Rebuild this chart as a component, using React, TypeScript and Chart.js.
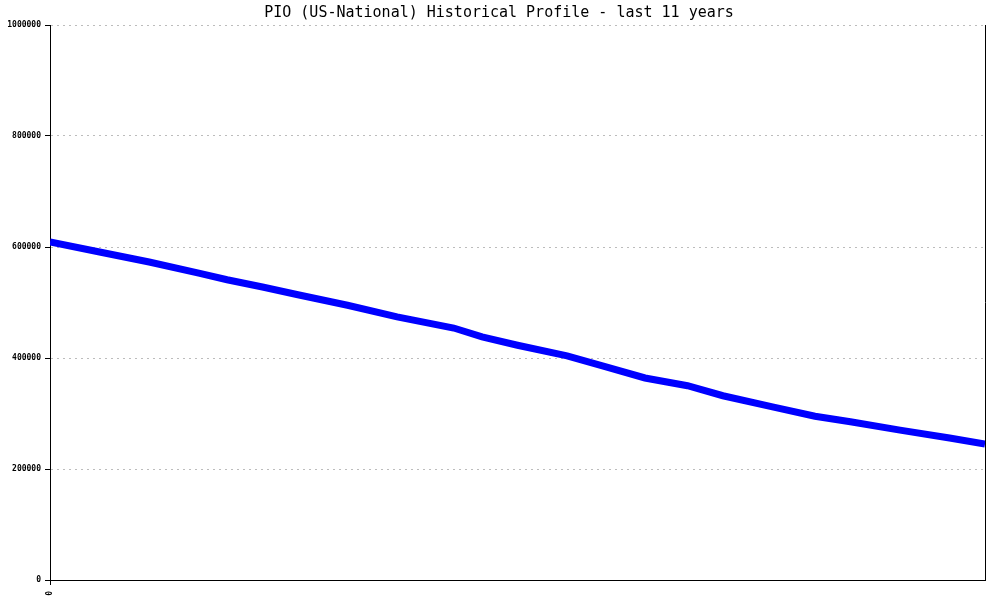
import React, { useEffect, useRef } from "react";
import { Chart, registerables } from "chart.js";

Chart.register(...registerables);

const TITLE = "PIO (US-National) Historical Profile - last 11 years";
const months = [0, 7, 14, 21, 25, 30, 35, 42, 49, 57, 61, 66, 73, 78, 84, 90, 95, 102, 108, 113, 120, 127, 132];
const values = [609000, 591000, 573000, 553000, 541000, 528000, 514000, 495000, 474000, 454000, 438000, 423000, 404000, 386000, 364000, 350000, 332000, 312000, 295000, 285000, 270000, 256000, 245000];
const yMax = 1000000;
const yStep = 200000;
const xTickLabels = ["0"];

export default function App() {
  const ref = useRef<HTMLCanvasElement | null>(null);
  useEffect(() => {
    document.body.style.margin = "0";
    const ctx = ref.current!;
    const framePlugin = {
      id: "frame",
      afterDraw(chart: any) {
        const { ctx, chartArea } = chart;
        ctx.save();
        ctx.setLineDash([]);
        ctx.strokeStyle = "#000";
        ctx.lineWidth = 1;
        ctx.beginPath();
        ctx.moveTo(Math.round(chartArea.right) + 0.5, chartArea.top);
        ctx.lineTo(Math.round(chartArea.right) + 0.5, chartArea.bottom);
        ctx.stroke();
        ctx.fillStyle = "#000";
        ctx.font = "15px 'DejaVu Sans Mono'";
        ctx.textAlign = "center";
        ctx.textBaseline = "middle";
        ctx.fillText(TITLE, 499, 13);
        ctx.restore();
      },
    };
    const chart = new Chart(ctx, {
      type: "line",
      data: {
        datasets: [
          {
            data: months.map((m, i) => ({ x: m, y: values[i] })),
            borderColor: "#0000ff",
            borderWidth: 7,
            pointRadius: 0,
            tension: 0,
            fill: false,
          },
        ],
      },
      options: {
        animation: false,
        responsive: false,
        maintainAspectRatio: false,
        layout: { padding: { top: 25, right: 15, left: 0, bottom: 0 } },
        plugins: { legend: { display: false }, tooltip: { enabled: false }, title: { display: false } },
        scales: {
          x: {
            type: "linear",
            min: months[0],
            max: months[months.length - 1],
            afterBuildTicks: (scale: any) => {
              scale.ticks = [{ value: months[0] }];
            },
            afterFit: (scale: any) => {
              scale.height = 20;
            },
            ticks: {
              minRotation: 90,
              maxRotation: 90,
              padding: 6,
              color: "#000",
              font: { family: "DejaVu Sans Mono", size: 8, weight: "bold" },
              callback: (_v: any, i: number) => xTickLabels[i] ?? "",
            },
            grid: { drawOnChartArea: false, drawTicks: true, tickLength: 5, tickColor: "#000" },
            border: { color: "#000", width: 1 },
          },
          y: {
            min: 0,
            max: yMax,
            afterFit: (scale: any) => {
              scale.width = 50;
            },
            ticks: {
              stepSize: yStep,
              color: "#000",
              padding: 4,
              font: { family: "DejaVu Sans Mono", size: 8, weight: "bold" },
              callback: (v: any) => String(v),
            },
            grid: {
              color: "#bcbcbc",
              tickColor: "#000",
              tickLength: 5,
              lineWidth: 1,
              tickBorderDash: [],
            },
            border: { color: "#000", width: 1, dash: [2, 4] },
          },
        },
      },
      plugins: [framePlugin],
    } as any);
    return () => chart.destroy();
  }, []);
  return (
    <div style={{ position: "absolute", left: 0, top: 0, width: 1000, height: 600, background: "#fff" }}>
      <canvas ref={ref} width={1000} height={600} />
    </div>
  );
}
